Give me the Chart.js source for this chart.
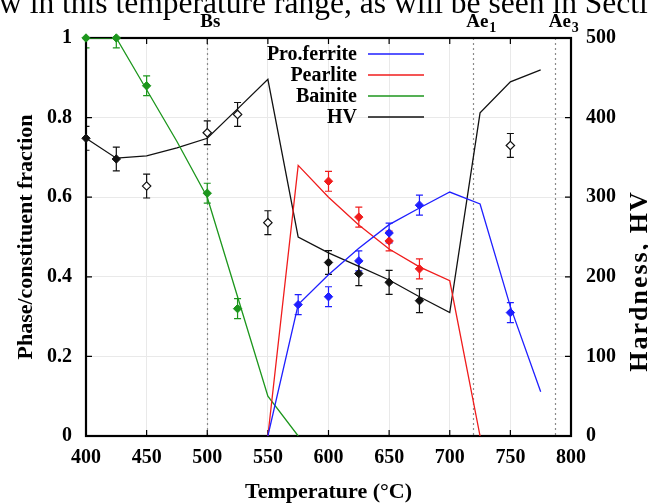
<!DOCTYPE html>
<html>
<head>
<meta charset="utf-8">
<script src="https://cdn.jsdelivr.net/npm/chart.js@4.4.0/dist/chart.umd.min.js"></script>
<style>
  html, body { margin: 0; padding: 0; background: #fff; }
  #wrap { position: relative; width: 648px; height: 504px; }
</style>
</head>
<body>
<div id="wrap"><canvas id="chart" width="648" height="504"></canvas></div>
<script>
/* ── model curves (25 °C steps) ── */
const bainiteT      = [400, 425, 450, 475, 500, 525, 550, 575];
const bainiteModel  = [1, 1, 0.87, 0.74, 0.60, 0.35, 0.10, 0];
const pearliteT     = [550, 575, 600, 625, 650, 675, 700, 725];
const pearliteModel = [0, 0.68, 0.60, 0.53, 0.47, 0.425, 0.39, 0];
const ferriteT      = [550, 575, 600, 625, 650, 675, 700, 725, 750, 775];
const ferriteModel  = [0, 0.33, 0.405, 0.472, 0.531, 0.573, 0.613, 0.583, 0.325, 0.111];
const hvT           = [400, 425, 450, 475, 500, 525, 550, 575, 600, 625, 650, 675, 700, 725, 750, 775];
const hvModel       = [374, 349, 352, 362, 374, 411, 448, 250, 230, 213, 196, 175, 155, 406, 445, 460];

/* ── measurements ── */
const bainiteMeasT  = [400, 425, 450, 500, 525];
const bainiteMeas   = [1.0, 1.0, 0.88, 0.61, 0.32];
const ferriteMeasT  = [575, 600, 625, 650, 675, 750];
const ferriteMeas   = [0.33, 0.35, 0.44, 0.51, 0.58, 0.31];
const pearliteMeasT = [600, 625, 650, 675];
const pearliteMeas  = [0.64, 0.55, 0.49, 0.42];
const hvMeasT       = [400, 425, 600, 625, 650, 675];
const hvMeas        = [374, 348, 218, 204, 193, 170];
const hvOpenT       = [450, 500, 525, 550, 750];
const hvOpen        = [314, 381, 404, 268, 365];

const fracErr = 0.025;
const hvErr = 15;

/* ── axes ── */
const xTicks  = [400, 450, 500, 550, 600, 650, 700, 750, 800];
const yTicks  = [0, 0.2, 0.4, 0.6, 0.8, 1];
const y2Ticks = [0, 100, 200, 300, 400, 500];

/* ── reference temperatures ── */
const markTemps  = [500, 719, 787];
const markLabels = [['Bs', ''], ['Ae', '1'], ['Ae', '3']];

const BLUE = '#1f1fff', RED = '#f01c1c', GREEN = '#1c961c', BLACK = '#111';
const SERIF = '"Liberation Serif", "DejaVu Serif", serif';

const pts = (xs, ys) => xs.map((x, i) => ({ x, y: ys[i] }));

function lineSet(label, xs, ys, color, axis) {
  return {
    label, data: pts(xs, ys), yAxisID: axis || 'y',
    borderColor: color, borderWidth: 1.3, pointRadius: 0, tension: 0, fill: false
  };
}

function markSet(label, xs, ys, color, err, axis, open) {
  return {
    label, data: pts(xs, ys), yAxisID: axis || 'y', showLine: false,
    pointStyle: 'rectRot', pointRadius: 4.2,
    pointBackgroundColor: open ? '#fff' : color, pointBorderColor: color,
    pointBorderWidth: open ? 1.2 : 1, clip: false, errBar: err
  };
}

/* ── plugin: frame, dotted markers, error bars, legend, labels ── */
const decor = {
  id: 'decor',
  beforeDatasetsDraw(chart) {
    const { ctx, chartArea: a, scales } = chart;
    const x = scales.x;
    ctx.save();
    // dotted reference temperatures
    ctx.strokeStyle = '#8a8a8a';
    ctx.lineWidth = 1.2;
    ctx.setLineDash([2, 3]);
    markTemps.forEach(t => {
      const px = Math.round(x.getPixelForValue(t)) + 0.5;
      ctx.beginPath(); ctx.moveTo(px, a.top); ctx.lineTo(px, a.bottom); ctx.stroke();
    });
    ctx.setLineDash([]);

    // error bars, behind the markers
    ctx.beginPath();
    ctx.rect(a.left, a.top, a.right - a.left, a.bottom - a.top);
    ctx.clip();
    chart.data.datasets.forEach(ds => {
      if (!ds.errBar) return;
      const ys = scales[ds.yAxisID];
      ctx.strokeStyle = ds.pointBorderColor;
      ctx.lineWidth = 1.2;
      ds.data.forEach(p => {
        const px = x.getPixelForValue(p.x);
        const top = ys.getPixelForValue(p.y + ds.errBar);
        const bot = ys.getPixelForValue(p.y - ds.errBar);
        ctx.beginPath();
        ctx.moveTo(px, top); ctx.lineTo(px, bot);
        ctx.moveTo(px - 3.5, top); ctx.lineTo(px + 3.5, top);
        ctx.moveTo(px - 3.5, bot); ctx.lineTo(px + 3.5, bot);
        ctx.stroke();
      });
    });
    ctx.restore();

    // frame with inward ticks on all four sides
    ctx.save();
    ctx.strokeStyle = '#000';
    ctx.lineWidth = 1.2;
    ctx.beginPath();
    xTicks.forEach(t => {
      const px = x.getPixelForValue(t);
      ctx.moveTo(px, a.bottom); ctx.lineTo(px, a.bottom - 6);
      ctx.moveTo(px, a.top); ctx.lineTo(px, a.top + 6);
    });
    yTicks.forEach(t => {
      const py = scales.y.getPixelForValue(t);
      ctx.moveTo(a.left, py); ctx.lineTo(a.left + 6, py);
      ctx.moveTo(a.right, py); ctx.lineTo(a.right - 6, py);
    });
    ctx.stroke();
    ctx.lineWidth = 2.2;
    ctx.strokeRect(a.left, a.top, a.right - a.left, a.bottom - a.top);
    ctx.restore();
  },
  afterDraw(chart) {
    const { ctx, chartArea: a, scales } = chart;
    ctx.save();
    ctx.fillStyle = '#000';

    // running text of the page above the figure, sized so "Secti" meets the right edge
    ctx.textAlign = 'left';
    ctx.textBaseline = 'alphabetic';
    ctx.font = '100px ' + SERIF;
    const span = ctx.measureText('w in this temperature range, as will be seen in Secti').width;
    const size = 100 * 649 / span;
    ctx.font = size.toFixed(2) + 'px ' + SERIF;
    const lead = ctx.measureText('o').width;
    ctx.fillText('ow in this temperature range, as will be seen in Section', -1 - lead, 13);

    // labels over the dotted lines
    markTemps.forEach((t, i) => {
      const px = scales.x.getPixelForValue(t);
      const [main, sub] = markLabels[i];
      ctx.font = 'bold 19px ' + SERIF;
      const w = ctx.measureText(main).width;
      ctx.font = 'bold 14px ' + SERIF;
      const ws = sub ? ctx.measureText(sub).width : 0;
      const x0 = px - (w + ws) / 2 + (sub ? 8 : 3);
      ctx.font = 'bold 19px ' + SERIF;
      ctx.textAlign = 'left';
      ctx.fillText(main, x0, 27);
      if (sub) { ctx.font = 'bold 14px ' + SERIF; ctx.fillText(sub, x0 + w + 1, 32); }
    });

    // axis titles
    ctx.font = 'bold 22px ' + SERIF;
    ctx.textAlign = 'center';
    ctx.fillText('Temperature (\u00B0C)', (a.left + a.right) / 2, 498);
    ctx.save();
    ctx.translate(32, (a.top + a.bottom) / 2);
    ctx.rotate(-Math.PI / 2);
    ctx.fillText('Phase/constituent fraction', 0, 0);
    ctx.restore();
    ctx.save();
    ctx.translate(647, 281);
    ctx.rotate(-Math.PI / 2);
    ctx.font = 'bold 26px ' + SERIF;
    ctx.letterSpacing = '2px';
    ctx.fillText('Hardness, HV', 0, 0);
    ctx.restore();

    // key
    const keys = [['Pro.ferrite', BLUE], ['Pearlite', RED], ['Bainite', GREEN], ['HV', BLACK]];
    ctx.font = 'bold 20px ' + SERIF;
    ctx.textAlign = 'right';
    ctx.textBaseline = 'middle';
    keys.forEach(([txt, col], i) => {
      const y = 54 + i * 21;
      ctx.fillStyle = '#000';
      ctx.fillText(txt, 357, y + 1);
      ctx.strokeStyle = col;
      ctx.lineWidth = 1.3;
      ctx.beginPath(); ctx.moveTo(368, y); ctx.lineTo(424, y); ctx.stroke();
    });
    ctx.restore();
  }
};

const tickFont = { family: SERIF, size: 20, weight: 'bold' };

new Chart(document.getElementById('chart'), {
  type: 'line',
  data: {
    datasets: [
      markSet('Bainite data', bainiteMeasT, bainiteMeas, GREEN, fracErr),
      markSet('Pro.ferrite data', ferriteMeasT, ferriteMeas, BLUE, fracErr),
      markSet('Pearlite data', pearliteMeasT, pearliteMeas, RED, fracErr),
      markSet('HV data', hvMeasT, hvMeas, BLACK, hvErr, 'y2'),
      markSet('HV data (open)', hvOpenT, hvOpen, BLACK, hvErr, 'y2', true),
      lineSet('Pro.ferrite', ferriteT, ferriteModel, BLUE),
      lineSet('Pearlite', pearliteT, pearliteModel, RED),
      lineSet('Bainite', bainiteT, bainiteModel, GREEN),
      lineSet('HV', hvT, hvModel, BLACK, 'y2')
    ]
  },
  options: {
    responsive: false,
    animation: false,
    devicePixelRatio: 1,
    layout: { padding: { top: 38, left: 0, right: 0, bottom: 0 } },
    plugins: { legend: { display: false }, tooltip: { enabled: false } },
    scales: {
      x: {
        type: 'linear', min: 400, max: 800,
        afterFit: s => { s.height = 68; },
        afterBuildTicks: s => { s.ticks = xTicks.map(v => ({ value: v })); },
        grid: { color: '#e9e9e9', drawTicks: false },
        border: { display: false },
        ticks: { color: '#000', font: tickFont, padding: 10, maxRotation: 0 }
      },
      y: {
        type: 'linear', position: 'left', min: 0, max: 1,
        afterFit: s => { s.width = 86; },
        afterBuildTicks: s => { s.ticks = yTicks.map(v => ({ value: v })); },
        grid: { color: '#e9e9e9', drawTicks: false },
        border: { display: false },
        ticks: {
          color: '#000', font: tickFont, padding: 14,
          callback: v => (v === 0 || v === 1) ? String(v) : v.toFixed(1)
        }
      },
      y2: {
        type: 'linear', position: 'right', min: 0, max: 500,
        afterFit: s => { s.width = 77; },
        afterBuildTicks: s => { s.ticks = y2Ticks.map(v => ({ value: v })); },
        grid: { drawOnChartArea: false, drawTicks: false },
        border: { display: false },
        ticks: { color: '#000', font: tickFont, padding: 15 }
      }
    }
  },
  plugins: [decor]
});
</script>
</body>
</html>
